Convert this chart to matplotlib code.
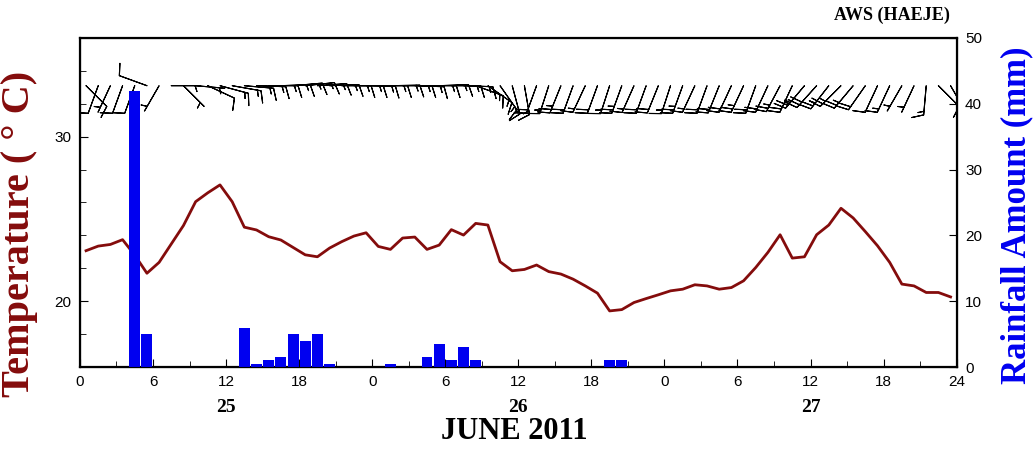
import matplotlib
matplotlib.use("Agg")
import matplotlib.pyplot as plt
import numpy as np

# hourly values, plotted at the middle of each hour (0.5 ... 71.5)
hours = np.arange(72) + 0.5

temperature = [
    23.07, 23.35, 23.45, 23.74, 22.80, 21.70, 22.36, 23.48, 24.60, 26.05,
    26.59, 27.07, 26.05, 24.50, 24.33, 23.92, 23.72, 23.27, 22.82, 22.70,
    23.23, 23.62, 23.96, 24.16, 23.33, 23.15, 23.84, 23.90, 23.15, 23.41,
    24.35, 24.02, 24.73, 24.63, 22.40, 21.85, 21.93, 22.20, 21.80, 21.65,
    21.34, 20.93, 20.49, 19.41, 19.49, 19.92, 20.16, 20.39, 20.63, 20.73,
    21.00, 20.93, 20.73, 20.83, 21.24, 22.05, 22.97, 24.04, 22.62, 22.70,
    24.04, 24.63, 25.65, 25.06, 24.23, 23.37, 22.36, 21.04, 20.93, 20.53,
    20.53, 20.26,
]

rain_hours = [4.5, 5.5, 13.5, 14.5, 15.5, 16.5, 17.5, 18.5, 19.5, 20.5,
              25.5, 28.5, 29.5, 30.5, 31.5, 32.5, 43.5, 44.5]
rain_mm = [42, 5, 6, 0.5, 1, 1.5, 5, 4, 5, 0.5,
           0.5, 1.5, 3.5, 1, 3, 1, 1, 1]

# wind direction (deg, from) and speed (kt)
wind_dir = [
    135, 200, 205, 200, 200, 290, 210, 90, 135, 95,
    115, 105, 100, 95, 92, 90, 88, 85, 84, 86,
    88, 90, 90, 91, 90, 89, 90, 92, 90, 88,
    90, 92, 110, 125, 145, 165, 170, 200, 198, 202,
    200, 205, 200, 198, 200, 204, 200, 202, 198, 200,
    205, 200, 202, 205, 205, 200, 205, 208, 205, 220,
    222, 218, 225, 220, 215, 205, 205, 210, 205, 185,
    135, 150,
]
wind_spd = [
    10, 10, 5, 10, 10, 10, 5, 5, 5, 5,
    10, 15, 15, 15, 15, 15, 15, 15, 15, 15,
    15, 15, 15, 15, 15, 15, 15, 15, 15, 15,
    15, 15, 15, 15, 15, 15, 15, 20, 15, 25,
    20, 15, 20, 15, 25, 15, 20, 20, 15, 25,
    15, 20, 20, 20, 25, 20, 20, 25, 20, 25,
    30, 25, 25, 25, 20, 10, 15, 5, 5, 15,
    10, 10,
]

hour_ticks = np.arange(0, 73, 6)
hour_labels = ["0", "6", "12", "18", "0", "6", "12", "18", "0", "6", "12", "18", "24"]
day_pos = [12, 36, 60]
day_labels = ["25", "26", "27"]

SERIF = ["Liberation Serif", "DejaVu Serif"]
SANS = ["Liberation Sans", "DejaVu Sans"]
TEMP_COLOR = "#840c0c"
RAIN_COLOR = "#0000f0"

fig = plt.figure(figsize=(10.33, 4.49), dpi=100)
ax1 = fig.add_axes([0.0774, 0.1826, 0.8487, 0.7328])

ax1.plot(hours, temperature, color=TEMP_COLOR, lw=2.0, zorder=3)

# wind barbs along the top of the plot
rad = np.deg2rad(wind_dir)
u = -np.array(wind_spd) * np.sin(rad)
v = -np.array(wind_spd) * np.cos(rad)
ax1.barbs(hours, np.full(len(hours), 33.1), u, v, length=6.5,
          linewidth=0.8, color="black", zorder=4)

ax1.set_xlim(0, 72)
ax1.set_ylim(16, 36)
ax1.set_xticks(hour_ticks)
ax1.set_xticklabels(hour_labels)
ax1.set_xticks(np.arange(0, 73, 3), minor=True)
ax1.set_yticks([20, 30])
ax1.set_yticks(np.arange(16, 37, 2), minor=True)
ax1.tick_params(which="both", direction="in", top=False, right=False)
ax1.tick_params(which="major", length=6, width=0.8, pad=6, labelsize=11)
ax1.tick_params(which="minor", length=4, width=0.6)
for lab in ax1.get_xticklabels() + ax1.get_yticklabels():
    lab.set_family(SANS)
for sp in ax1.spines.values():
    sp.set_linewidth(1.6)

ax2 = ax1.twinx()
ax2.bar(rain_hours, rain_mm, width=0.9, color=RAIN_COLOR, zorder=2)
ax2.set_ylim(0, 50)
ax2.set_yticks(np.arange(0, 51, 10))
ax2.tick_params(direction="in", length=6, width=0.8, pad=6, labelsize=11)
for lab in ax2.get_yticklabels():
    lab.set_family(SANS)

# day labels and month title under the hour axis
xform = ax1.get_xaxis_transform()
for x, d in zip(day_pos, day_labels):
    ax1.text(x, -0.122, d, transform=xform, ha="center", va="center",
             fontsize=14, fontweight="bold", family=SERIF)
ax1.text(0.495, -0.195, "JUNE 2011", transform=ax1.transAxes, ha="center",
         va="center", fontsize=22, fontweight="bold", family=SERIF)

fig.text(20 / 1033, 1 - 234 / 449, "Temperature ( ° C)", rotation=90,
         ha="center", va="center", fontsize=29, fontweight="bold",
         color=TEMP_COLOR, family=SERIF)
fig.text(1017 / 1033, 1 - 215 / 449, "Rainfall Amount (mm)", rotation=90,
         ha="center", va="center", fontsize=25, fontweight="bold",
         color=RAIN_COLOR, family=SERIF)
fig.text(950 / 1033, 1 - 15 / 449, "AWS (HAEJE)", ha="right", va="center",
         fontsize=13, fontweight="bold", family=SERIF)

fig.savefig("out.png", dpi=100)
